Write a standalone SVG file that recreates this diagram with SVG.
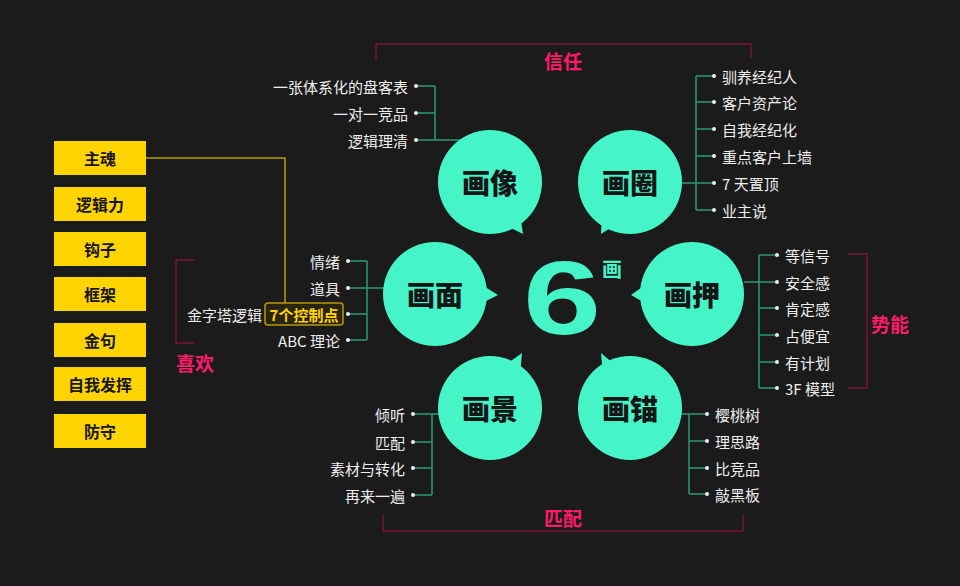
<svg xmlns="http://www.w3.org/2000/svg" width="960" height="586" viewBox="0 0 960 586">
<style>
.t{font-family:"Noto Sans CJK SC","Liberation Sans",sans-serif;fill:#eee;font-size:15px;dominant-baseline:central}
.e{text-anchor:end}
.c{fill:#45f5c8}
.ct{font-family:"Noto Sans CJK SC",sans-serif;font-size:28px;font-weight:900;fill:#161616;text-anchor:middle;dominant-baseline:central}
.l{stroke:#2a9a7a;stroke-width:1.5;fill:none}
.b{stroke:#7a1530;stroke-width:1.5;fill:none}
.p{font-family:"Noto Sans CJK SC",sans-serif;font-size:19px;font-weight:700;fill:#ff1a6a;text-anchor:middle;dominant-baseline:central}
.y{fill:#ffd400}
.yt{font-family:"Noto Sans CJK SC",sans-serif;font-size:16px;font-weight:700;fill:#161616;text-anchor:middle;dominant-baseline:central}
</style>
<rect width="960" height="586" fill="#1b1b1b"/>
<g id="connectors">
<path class="l" d="M435 86V140M416 86H435M416 113H435M416 140H462"/>
<path class="l" d="M696 76V210M696 76H714M696 102H714M696 129H714M696 156H714M696 183H714M696 210H714M682 183H696"/>
<path class="l" d="M367 261V340M348 261H367M348 288H367M348 314H367M348 340H367M367 288H384"/>
<path class="l" d="M759 255V388M759 255H777M759 282H777M759 308H777M759 335H777M759 362H777M759 388H777M744 282H759"/>
<path class="l" d="M432 414V495M413 414H432M413 442H432M413 468H432M413 495H432M432 414H440"/>
<path class="l" d="M689 414V494M689 414H707M689 441H707M689 468H707M689 494H707M680 414H689"/>
<path d="M146 158H285V303" stroke="#b89a00" stroke-width="1.5" fill="none"/>
<path class="b" d="M376 60V44H751V58M383 515V531H743V515M848 254H867V388H848M195 260H176V343H195"/>
</g>
<g fill="#eee">
<circle cx="416" cy="86" r="2"/><circle cx="416" cy="113" r="2"/><circle cx="416" cy="140" r="2"/>
<circle cx="714" cy="76" r="2"/><circle cx="714" cy="102" r="2"/><circle cx="714" cy="129" r="2"/><circle cx="714" cy="156" r="2"/><circle cx="714" cy="183" r="2"/><circle cx="714" cy="210" r="2"/>
<circle cx="348" cy="261" r="2"/><circle cx="348" cy="288" r="2"/><circle cx="348" cy="314" r="2"/><circle cx="348" cy="340" r="2"/>
<circle cx="777" cy="255" r="2"/><circle cx="777" cy="282" r="2"/><circle cx="777" cy="308" r="2"/><circle cx="777" cy="335" r="2"/><circle cx="777" cy="362" r="2"/><circle cx="777" cy="388" r="2"/>
<circle cx="413" cy="414" r="2"/><circle cx="413" cy="442" r="2"/><circle cx="413" cy="468" r="2"/><circle cx="413" cy="495" r="2"/>
<circle cx="707" cy="414" r="2"/><circle cx="707" cy="441" r="2"/><circle cx="707" cy="468" r="2"/><circle cx="707" cy="494" r="2"/>
</g>
<g id="n-xiang"><circle class="c" cx="490" cy="182" r="52"/><path class="c" d="M505 225L523 234L520 214Z"/><text class="ct" x="490" y="182">画像</text></g>
<g id="n-quan"><circle class="c" cx="630" cy="182" r="52"/><path class="c" d="M615 225L601 234L602 214Z"/><text class="ct" x="630" y="182">画圈</text></g>
<g id="n-mian"><circle class="c" cx="435" cy="294" r="52"/><path class="c" d="M482 285L498 295L482 303Z"/><text class="ct" x="435" y="294">画面</text></g>
<g id="n-ya"><circle class="c" cx="692" cy="294" r="52"/><path class="c" d="M645 285L631 295L645 303Z"/><text class="ct" x="692" y="294">画押</text></g>
<g id="n-jing"><circle class="c" cx="490" cy="408" r="52"/><path class="c" d="M505 365L522 353L520 375Z"/><text class="ct" x="490" y="408">画景</text></g>
<g id="n-mao"><circle class="c" cx="630" cy="408" r="52"/><path class="c" d="M615 365L601 353L603 375Z"/><text class="ct" x="630" y="408">画锚</text></g>
<g id="center">
<text transform="translate(562,298) scale(1.35,1)" font-family="'Liberation Sans',sans-serif" font-size="104" font-weight="900" fill="#45f5c8" text-anchor="middle" dominant-baseline="central">6</text>
<text x="612" y="268" font-family="'Noto Sans CJK SC',sans-serif" font-size="20" font-weight="700" fill="#45f5c8" text-anchor="middle" dominant-baseline="central">画</text>
</g>
<g id="lists">
<text class="t e" x="408" y="86">一张体系化的盘客表</text><text class="t e" x="408" y="113">一对一竞品</text><text class="t e" x="408" y="140">逻辑理清</text>
<text class="t" x="722" y="76">驯养经纪人</text><text class="t" x="722" y="102">客户资产论</text><text class="t" x="722" y="129">自我经纪化</text><text class="t" x="722" y="156">重点客户上墙</text><text class="t" x="722" y="183">7 天置顶</text><text class="t" x="722" y="210">业主说</text>
<text class="t e" x="340" y="261">情绪</text><text class="t e" x="340" y="288">道具</text><text class="t e" x="262" y="314">金字塔逻辑</text><text class="t e" x="340" y="340">ABC 理论</text>
<text class="t" x="785" y="255">等信号</text><text class="t" x="785" y="282">安全感</text><text class="t" x="785" y="308">肯定感</text><text class="t" x="785" y="335">占便宜</text><text class="t" x="785" y="362">有计划</text><text class="t" x="785" y="388">3F 模型</text>
<text class="t e" x="405" y="414">倾听</text><text class="t e" x="405" y="442">匹配</text><text class="t e" x="405" y="468">素材与转化</text><text class="t e" x="405" y="495">再来一遍</text>
<text class="t" x="715" y="414">樱桃树</text><text class="t" x="715" y="441">理思路</text><text class="t" x="715" y="468">比竞品</text><text class="t" x="715" y="494">敲黑板</text>
</g>
<g id="ctrl"><rect x="265" y="303" width="78" height="22" rx="3" fill="#2a2510" stroke="#b89a00" stroke-width="1.5"/><text x="304" y="314" font-family="'Noto Sans CJK SC',sans-serif" font-size="15" font-weight="700" fill="#ffd400" text-anchor="middle" dominant-baseline="central">7个控制点</text></g>
<g id="boxes">
<rect class="y" x="54" y="141" width="92" height="34"/><text class="yt" x="100" y="158">主魂</text>
<rect class="y" x="54" y="187" width="92" height="34"/><text class="yt" x="100" y="204">逻辑力</text>
<rect class="y" x="54" y="232" width="92" height="34"/><text class="yt" x="100" y="249">钩子</text>
<rect class="y" x="54" y="277" width="92" height="34"/><text class="yt" x="100" y="294">框架</text>
<rect class="y" x="54" y="323" width="92" height="34"/><text class="yt" x="100" y="340">金句</text>
<rect class="y" x="54" y="367" width="92" height="34"/><text class="yt" x="100" y="384">自我发挥</text>
<rect class="y" x="54" y="414" width="92" height="34"/><text class="yt" x="100" y="431">防守</text>
</g>
<g id="labels">
<text class="p" x="563" y="60">信任</text><text class="p" x="563" y="517">匹配</text><text class="p" x="890" y="323">势能</text><text class="p" x="195" y="362">喜欢</text>
</g>
</svg>
